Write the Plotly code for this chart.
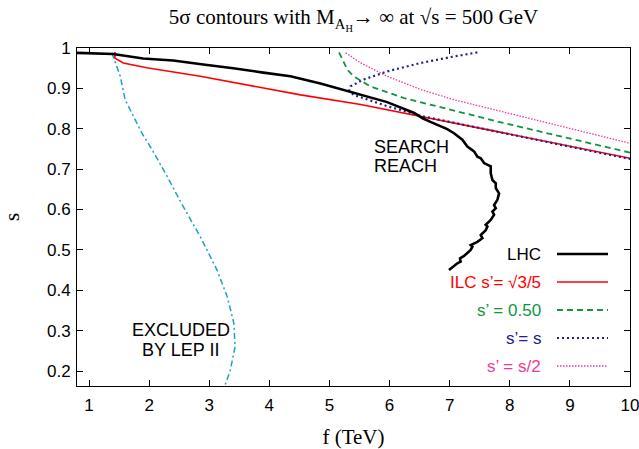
import plotly.graph_objects as go

# ---------------- data ----------------
lhc_f = [0.8, 1.0, 1.4, 1.9, 2.4, 2.9, 3.4, 3.9, 4.35, 4.85, 5.40, 5.96, 6.41, 6.55, 6.68, 6.96,
         7.072, 7.211, 7.294, 7.406, 7.461, 7.517, 7.572, 7.683, 7.683, 7.711, 7.767, 7.767, 7.822,
         7.794, 7.739, 7.767, 7.711, 7.739, 7.683, 7.600, 7.628, 7.600, 7.517, 7.544, 7.461, 7.350,
         7.378, 7.350, 7.239, 7.172, 7.183, 7.128, 6.989]
lhc_s = [0.988, 0.987, 0.985, 0.974, 0.969, 0.959, 0.950, 0.939, 0.930, 0.912, 0.889, 0.866, 0.839, 0.826, 0.817, 0.799,
         0.789, 0.773, 0.756, 0.744, 0.731, 0.727, 0.715, 0.707, 0.690, 0.673, 0.665, 0.653, 0.640,
         0.624, 0.611, 0.603, 0.595, 0.587, 0.574, 0.562, 0.558, 0.549, 0.537, 0.529, 0.520, 0.512,
         0.508, 0.500, 0.485, 0.479, 0.471, 0.467, 0.450]

ilc_f = [1.43, 1.43, 1.57, 1.96, 2.85, 4.52, 5.52, 6.46, 7.52, 10.0]
ilc_s = [0.990, 0.975, 0.963, 0.951, 0.930, 0.884, 0.860, 0.833, 0.801, 0.727]

half_f = [5.16, 5.30, 5.40, 5.68, 6.24, 6.79, 7.35, 7.85, 8.85, 10.0]
half_s = [0.989, 0.946, 0.930, 0.905, 0.876, 0.855, 0.835, 0.816, 0.781, 0.741]

eq_f = [7.46, 7.07, 6.52, 5.96, 5.57, 5.35, 5.33, 5.40, 5.96, 6.52, 7.52, 10.0]
eq_s = [0.989, 0.979, 0.963, 0.942, 0.922, 0.905, 0.895, 0.884, 0.856, 0.832, 0.801, 0.725]

sh_f = [5.27, 5.52, 5.96, 6.52, 7.07, 7.85, 8.85, 10.0]
sh_s = [0.988, 0.963, 0.930, 0.897, 0.872, 0.843, 0.806, 0.764]

lep_f = [1.38, 1.52, 1.60, 1.88, 2.05, 2.30, 2.52, 2.85, 3.13, 3.30, 3.41, 3.43, 3.35, 3.24]
lep_s = [0.988, 0.930, 0.872, 0.789, 0.748, 0.682, 0.620, 0.533, 0.450, 0.384, 0.318, 0.260, 0.202, 0.155]

x_ticks = [1, 2, 3, 4, 5, 6, 7, 8, 9, 10]
y_ticks = [0.2, 0.3, 0.4, 0.5, 0.6, 0.7, 0.8, 0.9, 1.0]
y_tick_text = ["0.2", "0.3", "0.4", "0.5", "0.6", "0.7", "0.8", "0.9", "1"]

legend_labels = ["LHC", "ILC s\u2019= \u221a3/5", "s\u2019 = 0.50", "s\u2019= s", "s\u2019 = s/2"]

# ---------------- styles ----------------
C_LHC = "#000000"
C_ILC = "#ff0000"
C_HALF = "#109641"
C_EQ = "#202090"
C_SH = "#f0389a"
C_LEP = "#1aa0cc"
SANS = "Liberation Sans, Arial, sans-serif"
SERIF = "Liberation Serif, Times New Roman, serif"

styles = [
    dict(color=C_LHC, width=2.6, dash="solid"),
    dict(color=C_ILC, width=1.6, dash="solid"),
    dict(color=C_HALF, width=1.8, dash="6px,4px"),
    dict(color=C_EQ, width=2.2, dash="2px,3px"),
    dict(color=C_SH, width=1.3, dash="1.5px,1.5px"),
]
text_colors = [C_LHC, C_ILC, C_HALF, C_EQ, C_SH]

fig = go.Figure()
fig.add_trace(go.Scatter(x=lep_f, y=lep_s, mode="lines",
                         line=dict(color=C_LEP, width=1.5, dash="6px,3px,2px,3px"), showlegend=False))
fig.add_trace(go.Scatter(x=sh_f, y=sh_s, mode="lines", line=styles[4], showlegend=False))
fig.add_trace(go.Scatter(x=half_f, y=half_s, mode="lines", line=styles[2], showlegend=False))
fig.add_trace(go.Scatter(x=ilc_f, y=ilc_s, mode="lines", line=styles[1], showlegend=False))
fig.add_trace(go.Scatter(x=eq_f, y=eq_s, mode="lines", line=styles[3], showlegend=False))
fig.add_trace(go.Scatter(x=lhc_f, y=lhc_s, mode="lines", line=styles[0], showlegend=False))

# manual legend (gnuplot style: right-aligned text, sample on the right)
W, H = 639, 449
L, R, T, B = 77, 9, 48, 63
pw, ph = W - L - R, H - T - B
row_y = [254, 282, 310, 338, 366]
for lab, st, tc, py in zip(legend_labels, styles, text_colors, row_y):
    yp = (H - B - py) / ph
    fig.add_annotation(x=(543 - L) / pw, y=yp, xref="paper", yref="paper", text=lab,
                       showarrow=False, xanchor="right", yanchor="middle",
                       font=dict(family=SANS, size=17, color=tc))
    fig.add_shape(type="line", xref="paper", yref="paper",
                  x0=(557 - L) / pw, x1=(608 - L) / pw, y0=yp, y1=yp,
                  line=dict(color=st["color"], width=st["width"], dash=st["dash"]))

# text labels
for txt, y in [("SEARCH", 0.754), ("REACH", 0.708)]:
    fig.add_annotation(x=5.70, y=y, text=txt, showarrow=False, xanchor="left", yanchor="middle",
                       font=dict(family=SANS, size=18, color="black"))
for txt, y in [("EXCLUDED", 0.301), ("BY LEP II", 0.252)]:
    fig.add_annotation(x=2.53, y=y, text=txt, showarrow=False, xanchor="center", yanchor="middle",
                       font=dict(family=SANS, size=18, color="black"))

fig.update_layout(
    width=W, height=H,
    margin=dict(l=L, r=R, t=T, b=B, autoexpand=False),
    paper_bgcolor="white", plot_bgcolor="white",
    showlegend=False,
    title=dict(text="5\u03c3 contours with M<sub>A<sub>H</sub></sub>\u2192 \u221e at \u221as = 500 GeV",
               x=(L + pw / 2) / W, xanchor="center", y=1 - 17 / H, yanchor="middle",
               font=dict(family=SERIF, size=21, color="black")),
    xaxis=dict(range=[0.8, 10.0], tickvals=x_ticks, ticks="inside", ticklen=6, tickcolor="black",
               showline=True, linecolor="black", linewidth=1, mirror="ticks", showgrid=False,
               zeroline=False, automargin=False, ticklabelstandoff=4, ticklabeloverflow="allow",
               tickfont=dict(family=SANS, size=17, color="black"),
               title=dict(text="f (TeV)", font=dict(family=SERIF, size=21, color="black"), standoff=16)),
    yaxis=dict(range=[0.163, 1.0], tickvals=y_ticks, ticktext=y_tick_text, ticks="inside", ticklen=6,
               tickcolor="black", showline=True, linecolor="black", linewidth=1, mirror="ticks",
               showgrid=False, zeroline=False, automargin=False, ticklabelstandoff=2,
               ticklabeloverflow="allow",
               tickfont=dict(family=SANS, size=17, color="black"),
               title=dict(text="s", font=dict(family=SERIF, size=21, color="black"), standoff=22)),
)

fig.write_html("out.html")
